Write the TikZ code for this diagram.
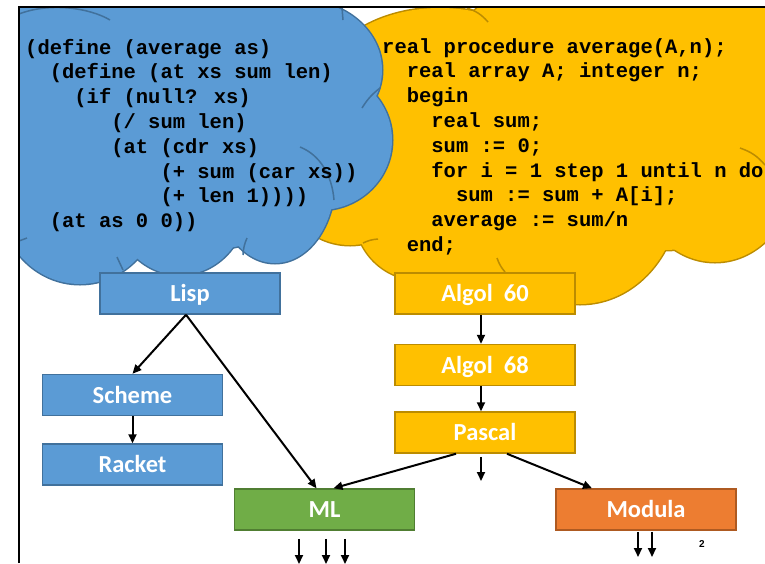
\documentclass[tikz,border=0pt]{standalone}
\usepackage{fontspec}
\newfontfamily\codefont{Liberation Mono}
\newfontfamily\boxfont{Carlito}
\newfontfamily\numfont{Liberation Sans}
\usetikzlibrary{positioning,arrows.meta}

\definecolor{lispblue}{HTML}{5B9BD5}
\definecolor{lispline}{HTML}{41719C}
\definecolor{algolyellow}{HTML}{FFC000}
\definecolor{algolline}{HTML}{BC8C00}
\definecolor{mlgreen}{HTML}{70AD47}
\definecolor{mlline}{HTML}{507E32}
\definecolor{modorange}{HTML}{ED7D31}
\definecolor{modline}{HTML}{AE5A21}

\begin{document}
\begin{tikzpicture}[x=1pt, y=-1pt,
    lang/.style={draw, line width=1.5pt, minimum width=180pt, minimum height=41pt,
      inner sep=0pt, text height=16.5pt, text depth=0pt, text=white,
      font=\boxfont\bfseries\fontsize{24.5}{28}\selectfont},
    lisp-box/.style={lang, fill=lispblue, draw=lispline},
    algol-box/.style={lang, fill=algolyellow, draw=algolline},
    src/.style={anchor=base west, align=left, inner sep=0pt,
      font=\codefont\bfseries\fontsize{20.5}{24.8}\selectfont},
    arr/.style={-{Triangle[length=9pt,width=8pt]}, line width=2pt},
    lisp-cloud/.style={draw=lispline, line width=3pt},
    algol-cloud/.style={draw=algolline, line width=3pt},
  ]
\useasboundingbox (0,0) rectangle (765,563);

% Clouds behind the boxes, cut at the slide edge
\begin{scope}
  \clip (19,7) rectangle (765,563);
  \foreach \cx/\cy/\rx/\ry in {440/90/120/82, 520/40/60/45, 660/110/200/140, 715/170/80/92,
      580/190/100/114, 350/150/80/95, 420/215/65/65, 490/200/90/95, 540/130/200/110}
    \draw[algol-cloud] (\cx,\cy) ellipse [x radius=\rx, y radius=\ry];
  \foreach \cx/\cy/\rx/\ry in {440/90/120/82, 520/40/60/45, 660/110/200/140, 715/170/80/92,
      580/190/100/114, 350/150/80/95, 420/215/65/65, 490/200/90/95, 540/130/200/110}
    \fill[algolyellow] (\cx,\cy) ellipse [x radius=\rx, y radius=\ry];
  \draw[algolline, line width=1.5pt] (467,8) to[bend left=15] (488,22);
  \draw[algolline, line width=1.5pt] (740,148) to[bend left=15] (765,165);
  \draw[algolline, line width=1.5pt] (363,243) to[bend left=10] (378,239);
  \draw[algolline, line width=1.5pt] (497,258) to[bend right=10] (505,272);

  \foreach \cx/\cy/\rx/\ry in {150/80/170/130, 200/150/140/100, 300/70/82/70, 320/140/72/70,
      275/180/60/83, 180/200/68/75, 80/200/80/84}
    \draw[lisp-cloud] (\cx,\cy) ellipse [x radius=\rx, y radius=\ry];
  \foreach \cx/\cy/\rx/\ry in {150/80/170/130, 200/150/140/100, 300/70/82/70, 320/140/72/70,
      275/180/60/83, 180/200/68/75, 80/200/80/84}
    \fill[lispblue] (\cx,\cy) ellipse [x radius=\rx, y radius=\ry];
  \draw[lispline, line width=1.5pt] (19,14) .. controls (50,2) and (90,8) .. (110,20);
  \draw[lispline, line width=1.5pt] (342,8) -- (343,20);
  \draw[lispline, line width=1.5pt] (362,108) to[bend left=10] (380,88);
  \draw[lispline, line width=1.5pt] (300,147) .. controls (320,155) and (332,175) .. (334,200);
  \draw[lispline, line width=1.5pt] (247,238) to[bend right=10] (243,255);
  \draw[lispline, line width=1.5pt] (117,257) -- (123,270);
  \draw[lispline, line width=1.5pt] (19,241) -- (27,238);
\end{scope}

% Code in the clouds (anchored at the last baseline)
\node[src] (lispcode) at (25,227.6) {(define (average as)\\
~~(define (at xs sum len)\\
~~~~(if (null? xs)\\
~~~~~~~(/ sum len)\\
~~~~~~~(at (cdr xs)\\
~~~~~~~~~~~(+ sum (car xs))\\
~~~~~~~~~~~(+ len 1))))\\
~~(at as 0 0))};
\node[src] (algolcode) at (382,251.4) {real procedure average(A,n);\\
~~real array A; integer n;\\
~~begin\\
~~~~real sum;\\
~~~~sum := 0;\\
~~~~for i = 1 step 1 until n do\\
~~~~~~sum := sum + A[i];\\
~~~~average := sum/n\\
~~end;};

% Slide frame
\draw[line width=2.5pt] (19,563) -- (19,7) -- (765,7);

% Language boxes
\node[lisp-box] (lisp) at (190,293.5) {Lisp};
\node[lisp-box] (scheme) at (132.5,395) {Scheme};
\node[lisp-box, below=27pt of scheme] (racket) {Racket};
\node[lang, fill=mlgreen, draw=mlline] (ml) at (324.5,509.5) {ML};
\node[algol-box] (algol60) at (485,293.5) {Algol\ \ 60};
\node[algol-box, below=29pt of algol60] (algol68) {Algol\ \ 68};
\node[algol-box, below=25pt of algol68] (pascal) {Pascal};
\node[lang, fill=modorange, draw=modline] (modula) at (646,509.5) {Modula};

\node[font=\numfont\bfseries\fontsize{10}{12}\selectfont] (pagenum) at (702,544) {2};

% Free ends of the arrows
\coordinate (pascalout) at (481,481);
\coordinate (mlout1) at (299,564);
\coordinate (mlout2) at (326,564);
\coordinate (mlout3) at (345,564);
\coordinate (modout1) at (638,557);
\coordinate (modout2) at (652,557);

% Arrows
\draw[arr] ([xshift=-4pt]lisp.south) -- (scheme.north);
\draw[arr] ([xshift=-4pt]lisp.south) -- ([xshift=-8pt]ml.north);
\draw[arr] (scheme.south) -- (racket.north);
\draw[arr] ([xshift=-4pt]algol60.south) -- ([xshift=-4pt]algol68.north);
\draw[arr] ([xshift=-4pt]algol68.south) -- ([xshift=-4pt]pascal.north);
\draw[arr] ([xshift=-29pt]pascal.south) -- ([xshift=9pt]ml.north);
\draw[arr] ([xshift=-4pt,yshift=-3pt]pascal.south) -- (pascalout);
\draw[arr] ([xshift=22pt]pascal.south) -- ([xshift=-54pt]modula.north);
\draw[arr] ([xshift=-25.5pt,yshift=-8pt]ml.south) -- (mlout1);
\draw[arr] ([xshift=1.5pt,yshift=-8pt]ml.south) -- (mlout2);
\draw[arr] ([xshift=20.5pt,yshift=-8pt]ml.south) -- (mlout3);
\draw[arr] ([xshift=-8pt,yshift=-1pt]modula.south) -- (modout1);
\draw[arr] ([xshift=6pt,yshift=-1pt]modula.south) -- (modout2);
\end{tikzpicture}
\end{document}
